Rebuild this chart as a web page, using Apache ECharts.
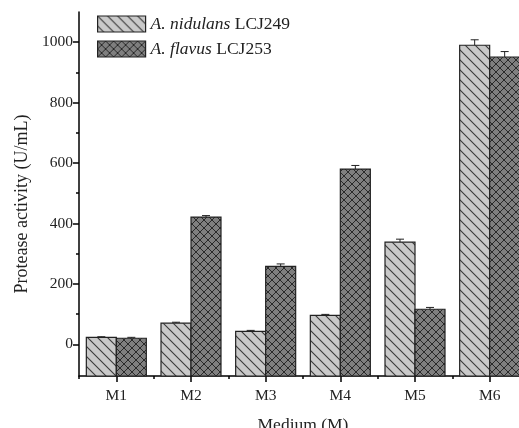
<!DOCTYPE html>
<html><head><meta charset="utf-8">
<script src="https://cdn.jsdelivr.net/npm/echarts@6/dist/echarts.min.js"></script>
<style>html,body{margin:0;padding:0;background:#fff}#c{width:519px;height:428px}</style>
</head><body><div id="c"></div>
<script>
var categories = ['M1','M2','M3','M4','M5','M6'];
var nidulans = [23, 70, 43, 96, 338, 990];
var nidulansErr = [2, 3, 3, 3, 10, 18];
var flavus = [20, 421, 258, 580, 116, 951];
var flavusErr = [3, 5, 8, 12, 6, 18];
var seriesNames = ['A. nidulans LCJ249', 'A. flavus LCJ253'];
var yLabelValues = [0, 200, 400, 600, 800, 1000];
var yMinorValues = [100, 300, 500, 700, 900];
var yMin = -105, yMax = 1100;

function stripe() {
  var c = document.createElement('canvas'); c.width = 10; c.height = 10;
  var g = c.getContext('2d');
  g.fillStyle = '#c9c9c9'; g.fillRect(0,0,10,10);
  g.strokeStyle = '#3a3a3a'; g.lineWidth = 1.1;
  g.beginPath(); g.moveTo(-1,-1); g.lineTo(11,11);
  g.moveTo(-1,9); g.lineTo(1,11); g.moveTo(9,-1); g.lineTo(11,1); g.stroke();
  return c;
}
function cross() {
  var c = document.createElement('canvas'); c.width = 8; c.height = 8;
  var g = c.getContext('2d');
  g.fillStyle = '#7f7f7f'; g.fillRect(0,0,8,8);
  g.strokeStyle = '#2a2a2a'; g.lineWidth = 1;
  g.beginPath(); g.moveTo(-1,-1); g.lineTo(9,9); g.moveTo(-1,9); g.lineTo(9,-1); g.stroke();
  return c;
}
var pats = [{image: stripe(), repeat: 'repeat'}, {image: cross(), repeat: 'repeat'}];

function barSeries(name, vals, errs, idx) {
  var data = vals.map(function(v,i){ return [i, v, v + errs[i]]; });
  return {
    name: name, type: 'custom', z: 2,
    itemStyle: {color: pats[idx], borderColor: '#222', borderWidth: 1.2},
    encode: {x: 0, y: [1, 2]},
    data: data,
    renderItem: function(params, api) {
      var i = api.value(0);
      var base = api.coord([i, yMin]);
      var p0 = api.coord([i, api.value(1)]);
      var p1 = api.coord([i, api.value(2)]);
      var bw = 30;
      var left = idx === 0 ? p0[0] - bw : p0[0];
      var x = left + bw / 2;
      return {type: 'group', children: [
        {type: 'line', z2: 1, shape: {x1: x, y1: p0[1], x2: x, y2: p1[1]}, style: {stroke: '#222', lineWidth: 1}},
        {type: 'line', z2: 1, shape: {x1: x - 4, y1: p1[1], x2: x + 4, y2: p1[1]}, style: {stroke: '#222', lineWidth: 1}},
        {type: 'rect', z2: 2, shape: {x: left, y: p0[1], width: bw, height: base[1] - p0[1]},
         style: {fill: pats[idx], stroke: '#222', lineWidth: 1.2}}
      ]};
    }
  };
}

var font = 'Liberation Serif';
var chart = echarts.init(document.getElementById('c'));
chart.setOption({
  animation: false,
  textStyle: {fontFamily: font},
  grid: {left: 79, top: 12, width: 448, bottom: 52, containLabel: false, outerBoundsMode: 'none'},
  legend: {
    orient: 'vertical', left: 97, top: 15, padding: 0, itemWidth: 48, itemHeight: 16, itemGap: 7,
    data: seriesNames.map(function(n, k){ return {name: n, icon: 'rect',
      itemStyle: {color: pats[k], borderColor: '#222', borderWidth: 1.2}}; }),
    textStyle: {fontFamily: font, fontSize: 17.5, color: '#222',
      rich: {i: {fontStyle: 'italic', fontFamily: font, fontSize: 17.5, color: '#222'},
             n: {fontFamily: font, fontSize: 17.5, color: '#222'}}},
    formatter: function(name) {
      var k = name.lastIndexOf(' ');
      return '{i|' + name.slice(0, k) + '} {n|' + name.slice(k + 1) + '}';
    }
  },
  xAxis: [{
    type: 'category', data: categories,
    name: 'Medium (M)', nameLocation: 'middle', nameGap: 40,
    nameTextStyle: {fontFamily: font, fontSize: 17.5, color: '#222'},
    axisLine: {onZero: false, lineStyle: {color: '#000', width: 1.5}},
    axisTick: {show: true, alignWithLabel: true, length: 6, lineStyle: {color: '#000', width: 1.5}},
    axisLabel: {fontFamily: font, fontSize: 15.5, color: '#222', margin: 12}
  }, {
    type: 'category', data: categories, position: 'bottom',
    axisLine: {show: false, onZero: false},
    axisTick: {show: true, length: 3, lineStyle: {color: '#000', width: 1.5}},
    axisLabel: {show: false}
  }],
  yAxis: [{
    type: 'value', min: yMin, max: yMax,
    name: 'Protease activity (U/mL)', nameLocation: 'middle', nameGap: 47,
    nameTextStyle: {fontFamily: font, fontSize: 18, color: '#222', padding: [0, 20, 0, 0]},
    axisLine: {show: true, lineStyle: {color: '#000', width: 1.5}},
    axisTick: {show: true, length: 6, customValues: yLabelValues, lineStyle: {color: '#000', width: 1.5}},
    axisLabel: {fontFamily: font, fontSize: 15.5, color: '#222', customValues: yLabelValues, margin: 6,
      formatter: function(v){ return String(v); }},
    splitLine: {show: false}
  }, {
    type: 'value', min: yMin, max: yMax, position: 'left',
    axisLine: {show: false},
    axisTick: {show: true, length: 3, customValues: yMinorValues, lineStyle: {color: '#000', width: 1.5}},
    axisLabel: {show: false},
    splitLine: {show: false}
  }],
  series: [
    barSeries(seriesNames[0], nidulans, nidulansErr, 0),
    barSeries(seriesNames[1], flavus, flavusErr, 1)
  ]
});
</script></body></html>
